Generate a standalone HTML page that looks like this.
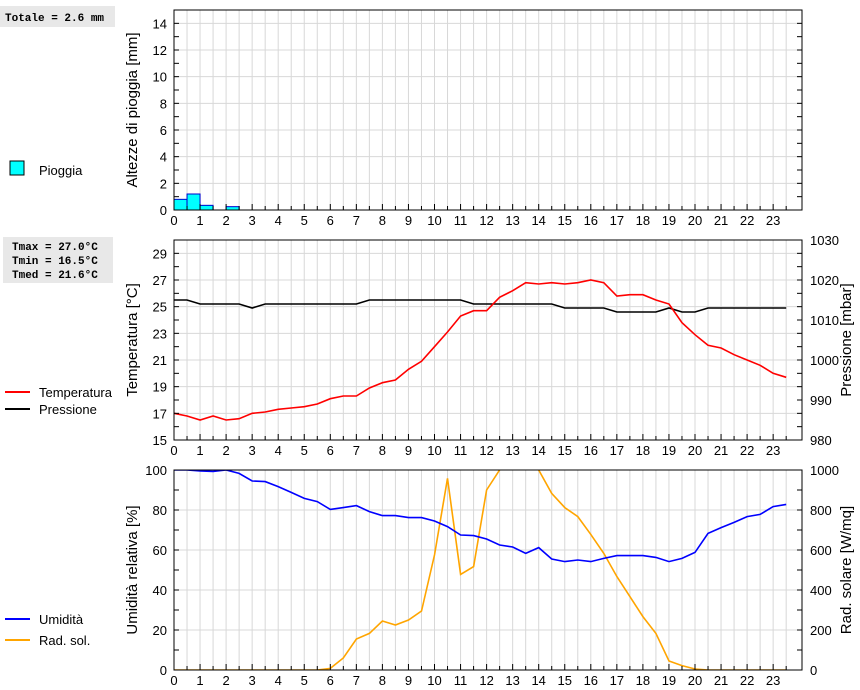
<!DOCTYPE html>
<html><head><meta charset="utf-8"><style>
body{margin:0;background:#fff;}
svg{display:block;font-family:"Liberation Sans",sans-serif;}
.mono{font-family:"Liberation Mono",monospace;font-weight:bold;font-size:11px;}
</style></head><body>
<svg id="c" width="860" height="690" viewBox="0 0 860 690">
<rect x="0" y="6" width="115" height="21" fill="#e8e8e8"/>
<text x="5" y="21" class="mono">Totale = 2.6 mm</text>
<rect x="3" y="237" width="110" height="46" fill="#e8e8e8"/>
<text x="12" y="250" class="mono">Tmax = 27.0°C</text>
<text x="12" y="264" class="mono">Tmin = 16.5°C</text>
<text x="12" y="278" class="mono">Tmed = 21.6°C</text>
<g font-size="13">
<rect x="10" y="161" width="14" height="14" fill="#00ffff" stroke="#000"/>
<text x="39" y="175">Pioggia</text>
<line x1="5" y1="392" x2="30" y2="392" stroke="#f00" stroke-width="2"/>
<text x="39" y="397">Temperatura</text>
<line x1="5" y1="409" x2="30" y2="409" stroke="#000" stroke-width="2"/>
<text x="39" y="414">Pressione</text>
<line x1="5" y1="619" x2="30" y2="619" stroke="#00f" stroke-width="2"/>
<text x="39" y="624">Umidità</text>
<line x1="5" y1="640" x2="30" y2="640" stroke="#ffa500" stroke-width="2"/>
<text x="39" y="645">Rad. sol.</text>
</g>
</svg>
<script>
const rainVals=[0.8,1.2,0.35,0,0.25];
const tempVals=[17.0,16.8,16.5,16.8,16.5,16.6,17.0,17.1,17.3,17.4,17.5,17.7,18.1,18.3,18.3,18.9,19.3,19.5,20.3,20.9,22.0,23.1,24.3,24.7,24.7,25.7,26.2,26.8,26.7,26.8,26.7,26.8,27.0,26.8,25.8,25.9,25.9,25.5,25.2,23.8,22.9,22.1,21.9,21.4,21.0,20.6,20.0,19.7];
const pressVals=[1015,1015,1014,1014,1014,1014,1013,1014,1014,1014,1014,1014,1014,1014,1014,1015,1015,1015,1015,1015,1015,1015,1015,1014,1014,1014,1014,1014,1014,1014,1013,1013,1013,1013,1012,1012,1012,1012,1013,1012,1012,1013,1013,1013,1013,1013,1013,1013];
const humVals=[100,100,99.5,99.3,100,98.3,94.5,94.2,91.7,88.8,85.8,84.2,80.3,81.2,82.2,79.2,77.2,77.2,76.2,76.2,74.5,71.7,67.5,67.2,65.5,62.5,61.5,58.3,61.2,55.5,54.2,55,54.2,55.8,57.2,57.2,57.2,56.3,54.2,55.8,58.8,68.3,71.2,73.8,76.7,77.8,81.7,82.8];
const radVals=[0,0,0,0,0,0,0,0,0,0,0,0,8,60,155,183,245,225,250,295,575,958,478,517,900,1000,1150,1150,1000,883,812,767,678,583,467,367,267,183,45,22,5,0,0,0,0,0,0,0];
const hourLabels=[0,1,2,3,4,5,6,7,8,9,10,11,12,13,14,15,16,17,18,19,20,21,22,23];
const rainTicks=[0,2,4,6,8,10,12,14];
const tempTicks=[15,17,19,21,23,25,27,29];
const pressTicks=[980,990,1000,1010,1020,1030];
const humTicks=[0,20,40,60,80,100];
const radTicks=[0,200,400,600,800,1000];

const NS="http://www.w3.org/2000/svg";
const svg=document.getElementById('c');
const X0=174,X1=802,HW=26.05;
const xs=h=>X0+h*HW;
function mk(tag,attrs,parent){const e=document.createElementNS(NS,tag);for(const k in attrs)e.setAttribute(k,attrs[k]);(parent||svg).appendChild(e);return e;}
function panel(top,bot,lmin,lmax,lTicks,lMinor,name){
  const ys=v=>bot-(v-lmin)/(lmax-lmin)*(bot-top);
  const g=mk('g',{});
  
  
  for(let k=1;k<48;k++){const x=xs(k/2);if(x<X1)mk('line',{x1:x,y1:top,x2:x,y2:bot,stroke:'#d8d8d8'},g);}
  lTicks.forEach(v=>{mk('line',{x1:X0,y1:ys(v),x2:X1,y2:ys(v),stroke:'#d8d8d8'},g);});
  return ys;
}
function frame(top,bot,lmin,lmax,lTicks,lMinor,name,rmin,rmax,rTicks){
  const ys=v=>bot-(v-lmin)/(lmax-lmin)*(bot-top);
  const r=mk('rect',{x:X0,y:top,width:X1-X0,height:bot-top,fill:'none',stroke:'#000'});
  
  
  for(let k=0;k<48;k++){const x=xs(k/2);mk('line',{x1:x,y1:bot,x2:x,y2:bot-(k%2?4:6),stroke:'#000'});}
  hourLabels.forEach(h=>{const t=mk('text',{x:xs(h),y:bot+15,'text-anchor':'middle','font-size':13});t.textContent=h;
    });
  for(let v=lmin;v<=lmax+1e-9;v+=lMinor){mk('line',{x1:X0,y1:ys(v),x2:X0+5,y2:ys(v),stroke:'#000'});mk('line',{x1:X1,y1:ys(v),x2:X1-5,y2:ys(v),stroke:'#000'});}
  lTicks.forEach(v=>{const t=mk('text',{x:X0-7,y:ys(v)+5,'text-anchor':'end','font-size':13});t.textContent=v;
    });
  if(rTicks){const yr=v=>bot-(v-rmin)/(rmax-rmin)*(bot-top);
    rTicks.forEach(v=>{const t=mk('text',{x:X1+8,y:yr(v)+5,'font-size':13});t.textContent=v;
      });}
}
function title(txt,x,y,name){const t=mk('text',{x:x,y:y,'text-anchor':'middle','font-size':15,transform:`rotate(-90 ${x} ${y})`});t.textContent=txt;
  }
function line(vals,xfn,yfn,color,name,clip){const p=vals.map((v,i)=>xfn(i/2).toFixed(1)+','+yfn(v).toFixed(1)).join(' ');
  const e=mk('polyline',{points:p,fill:'none',stroke:color,'stroke-width':1.6});if(clip)e.setAttribute('clip-path',clip);
  }

// clip for bottom
const defs=mk('defs',{});const cp=mk('clipPath',{id:'bc'},defs);mk('rect',{x:X0,y:470,width:X1-X0,height:200},cp);

// Panel 1: rain
const yR=panel(10,210,0,15,rainTicks,1,'rain');
rainVals.forEach((v,i)=>{if(v<=0)return;const b=mk('rect',{x:xs(i/2),y:yR(v),width:HW/2,height:210-yR(v),fill:'#00ffff',stroke:'#0000cc','stroke-width':1});
  });
frame(10,210,0,15,rainTicks,1,'rain');
title('Altezze di pioggia [mm]',137,110,'rain-axis-title');

// Panel 2: temp & pressure
const yT=panel(240,440,15,30,tempTicks,1,'temp');
const yP=v=>440-(v-980)/50*200;
line(pressVals,xs,yP,'#000','pressure-line');
line(tempVals,xs,yT,'#f00','temperature-line');
frame(240,440,15,30,tempTicks,1,'temp',980,1030,pressTicks);
title('Temperatura [°C]',137,340,'temp-axis-title');
title('Pressione [mbar]',851,340,'press-axis-title');

// Panel 3: humidity & radiation
const yH=panel(470,670,0,100,humTicks,10,'hum');
const yS=v=>670-v/1000*200;
line(radVals,xs,yS,'#ffa500','radiation-line','url(#bc)');
line(humVals,xs,yH,'#00f','humidity-line','url(#bc)');
frame(470,670,0,100,humTicks,10,'hum',0,1000,radTicks);
title('Umidità relativa [%]',137,570,'hum-axis-title');
title('Rad. solare [W/mq]',851,570,'rad-axis-title');
</script>
</body></html>
